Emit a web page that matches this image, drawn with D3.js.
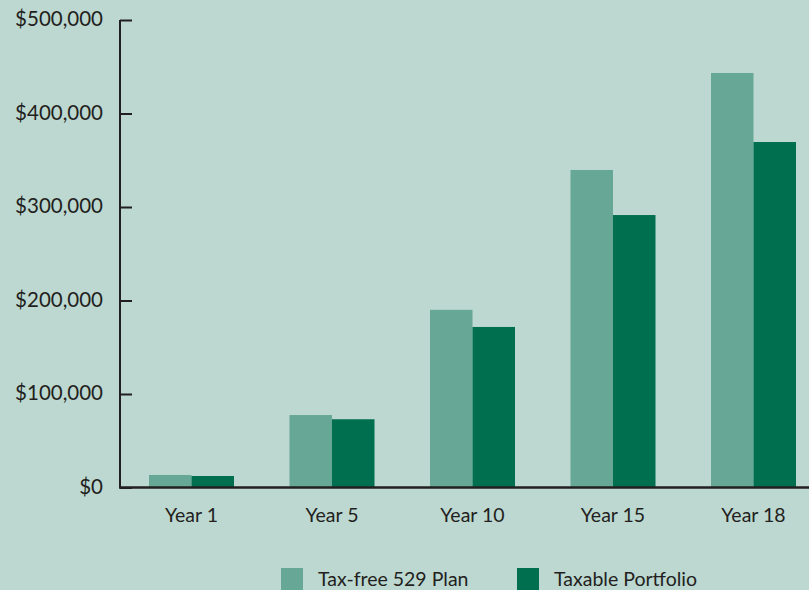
<!DOCTYPE html>
<html>
<head>
<meta charset="UTF-8">
<script src="https://d3js.org/d3.v7.min.js"></script>
<style>
    body { margin: 0; background: #bcd8d0; }
    svg { display: block; }
    text { font-family: "Lato", "Open Sans", sans-serif; fill: #231f20; }
</style>
</head>
<body>
<div id="chart"></div>
<script>
    // data
    const years = ["Year 1", "Year 5", "Year 10", "Year 15", "Year 18"];
    const taxFree = [13400, 77500, 190000, 339600, 443300];
    const taxable = [12300, 73000, 171700, 291400, 369500];
    const seriesNames = ["Tax-free 529 Plan", "Taxable Portfolio"];
    const yTicks = [0, 100000, 200000, 300000, 400000, 500000];

    const colors = ["#66a895", "#006f50"];
    const width = 809, height = 590;

    const svg = d3.select("#chart").append("svg")
        .attr("width", width)
        .attr("height", height);

    svg.append("rect")
        .attr("width", width).attr("height", height)
        .attr("fill", "#bcd8d0");

    const y = d3.scaleLinear().domain([0, 500000]).range([487.5, 20]);

    const x = d3.scaleBand()
        .domain(years)
        .range([121.25, 823.75])
        .paddingInner(0.395)
        .paddingOuter(0.1975);

    const xs = d3.scaleBand()
        .domain([0, 1])
        .range([0, x.bandwidth()]);

    // bars
    const groups = svg.selectAll("g.year")
        .data(years)
        .join("g")
        .attr("class", "year")
        .attr("transform", d => `translate(${x(d)},0)`);

    groups.selectAll("rect")
        .data((d, i) => [taxFree[i], taxable[i]])
        .join("rect")
        .attr("x", (d, j) => xs(j))
        .attr("width", xs.bandwidth())
        .attr("y", d => y(d))
        .attr("height", d => y(0) - y(d))
        .attr("fill", (d, j) => colors[j]);

    // y axis
    const yAxis = svg.append("g")
        .attr("transform", "translate(120,0)")
        .call(d3.axisRight(y)
            .tickValues(yTicks)
            .tickSize(12)
            .tickFormat(() => ""));
    yAxis.select(".domain").attr("stroke", "#231f20").attr("stroke-width", 2)
        .attr("d", `M0,${y(500000)}V${y(0)}`);
    yAxis.selectAll(".tick line").attr("stroke", "#231f20").attr("stroke-width", 2);

    svg.selectAll("text.ylab")
        .data(yTicks)
        .join("text")
        .attr("class", "ylab")
        .attr("x", 103)
        .attr("y", d => y(d) + 1)
        .attr("text-anchor", "end")
        .attr("dominant-baseline", "middle")
        .style("font-size", "20.5px")
        .text(d => "$" + d3.format(",")(d));

    // baseline
    svg.append("line")
        .attr("x1", 119).attr("x2", width)
        .attr("y1", y(0)).attr("y2", y(0))
        .attr("stroke", "#231f20").attr("stroke-width", 2.5);

    // x labels
    svg.selectAll("text.xlab")
        .data(years)
        .join("text")
        .attr("class", "xlab")
        .attr("x", d => x(d) + x.bandwidth() / 2)
        .attr("y", 522)
        .attr("text-anchor", "middle")
        .style("font-size", "19.5px")
        .text(d => d);

    // legend
    const legendX = [281, 517];
    const legend = svg.selectAll("g.legend")
        .data(seriesNames)
        .join("g")
        .attr("class", "legend")
        .attr("transform", (d, i) => `translate(${legendX[i]},568)`);
    legend.append("rect")
        .attr("width", 22).attr("height", 22)
        .attr("fill", (d, i) => colors[i]);
    legend.append("text")
        .attr("x", 37)
        .attr("y", 18)
        .style("font-size", "19.5px")
        .text(d => d);
</script>
</body>
</html>
